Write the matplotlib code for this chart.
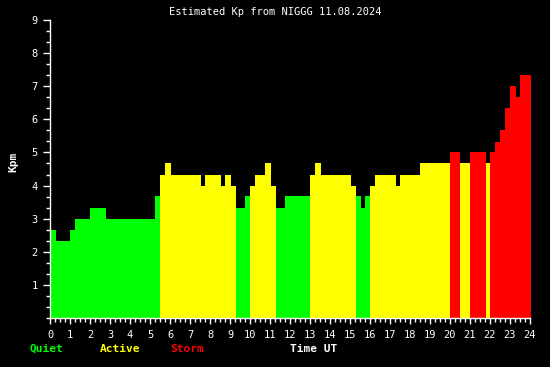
import matplotlib
matplotlib.use("Agg")
import matplotlib.pyplot as plt
import numpy as np

# segment boundaries (hours UT) and estimated Kp for each segment
t_edges = [0.0, 0.3, 1.0, 1.25, 2.0, 2.8, 5.25, 5.5, 5.75, 6.05, 7.55, 7.75,
           8.55, 8.75, 9.05, 9.3, 9.75, 10.0, 10.25, 10.75, 11.05, 11.3, 11.75,
           13.0, 13.25, 13.55, 15.05, 15.3, 15.55, 15.75, 16.0, 16.25, 17.3,
           17.5, 18.5, 20.0, 20.5, 21.0, 21.8, 22.0, 22.25, 22.5, 22.75, 23.0,
           23.3, 23.5, 24.05]
kp = [2.67, 2.33, 2.67, 3.0, 3.33, 3.0, 3.67, 4.33, 4.67, 4.33, 4.0, 4.33,
      4.0, 4.33, 4.0, 3.33, 3.67, 4.0, 4.33, 4.67, 4.0, 3.33, 3.67,
      4.33, 4.67, 4.33, 4.0, 3.67, 3.33, 3.67, 4.0, 4.33, 4.0,
      4.33, 4.67, 5.0, 4.67, 5.0, 4.67, 5.0, 5.33, 5.67, 6.33, 7.0,
      6.67, 7.33]

title = "Estimated Kp from NIGGG 11.08.2024"
legend_items = [("Quiet", "#00ff00"), ("Active", "#ffff00"), ("Storm", "#ff0000")]


def kp_color(v):
    if v >= 5:
        return "#ff0000"
    if v >= 4:
        return "#ffff00"
    return "#00ff00"


mono = "DejaVu Sans Mono"
fig = plt.figure(figsize=(5.5, 3.67), dpi=100, facecolor="black")
ax = fig.add_axes([50 / 550, 49 / 367, 480 / 550, 298 / 367], facecolor="black")

starts = np.array(t_edges[:-1])
widths = np.diff(t_edges)
bars = ax.bar(starts, kp, width=widths, align="edge",
              color=[kp_color(v) for v in kp], linewidth=0)
for b in bars:
    b.set_clip_on(False)

ax.set_xlim(0, 24)
ax.set_ylim(0, 9)
for s in ["top", "right"]:
    ax.spines[s].set_visible(False)
for s in ["left", "bottom"]:
    ax.spines[s].set_color("white")
    ax.spines[s].set_linewidth(1)

ax.set_xticks(range(0, 25))
ax.set_xticks(np.arange(0, 24.01, 0.25), minor=True)
ax.set_yticks(range(1, 10))
ax.set_yticks(np.arange(0, 9.01, 1 / 3), minor=True)
ax.tick_params(which="both", colors="white", labelsize=7.5, width=1)
ax.tick_params(axis="x", which="major", length=4, pad=5)
ax.tick_params(axis="x", which="minor", length=3)
ax.tick_params(axis="y", which="major", length=5, pad=4)
ax.tick_params(axis="y", which="minor", length=3)
for lab in ax.get_xticklabels() + ax.get_yticklabels():
    lab.set_family(mono)

fig.text(0.5, 1 - 12 / 367, title, color="white", family=mono, fontsize=7.5,
         ha="center", va="center")
fig.text(13 / 550, 1 - 162 / 367, "Kpm", color="white", family=mono,
         fontsize=8, fontweight="bold", rotation=90, ha="center", va="center")

for i, (name, col) in enumerate(legend_items):
    fig.text((30 + 70 * i) / 550, 1 - 349 / 367, name, color=col, family=mono,
             fontsize=8, fontweight="bold", ha="left", va="center")
fig.text(290 / 550, 1 - 349 / 367, "Time UT", color="white", family=mono,
         fontsize=8, fontweight="bold", ha="left", va="center")

fig.savefig("out.png", dpi=100, facecolor="black")
